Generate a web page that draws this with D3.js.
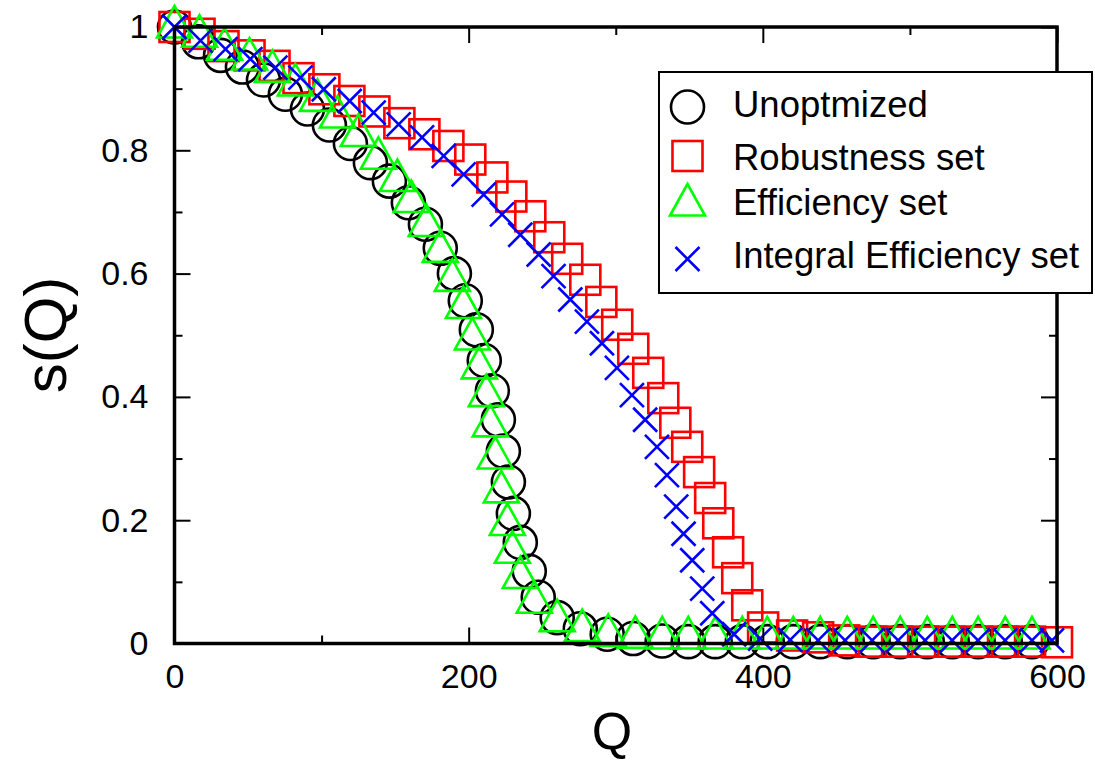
<!DOCTYPE html>
<html>
<head>
<meta charset="utf-8">
<script src="https://cdn.jsdelivr.net/npm/d3@7"></script>
<style>
  html, body { margin: 0; padding: 0; background: #fff; }
  svg { display: block; font-family: "Liberation Sans", Arial, sans-serif; }
</style>
</head>
<body>
<svg id="chart" width="1095" height="762"></svg>
<script>
// ---- data ----
const unoptimized = [[0,1.0],[16.3,0.976],[31.3,0.954],[46.2,0.935],[60.5,0.914],[75.4,0.891],[90.4,0.867],[105.3,0.841],[119.6,0.811],[133.2,0.780],[146.1,0.750],[159.0,0.715],[170.6,0.680],[180.7,0.641],[190.3,0.600],[197.7,0.556],[205.2,0.509],[210.6,0.459],[216.1,0.410],[220.2,0.363],[223.6,0.312],[227.0,0.262],[230.4,0.211],[235.1,0.164],[241.2,0.117],[247.3,0.075],[260.2,0.042],[275.9,0.024],[294.2,0.015],[311.9,0.008],[331.6,0.004],[349.3,0.003],[367.6,0.003],[386.0,0.003],[403.0,0.003],[420.7,0.003],[439.0,0.003],[457.4,0.003],[475.0,0.003],[493.4,0.003],[511.8,0.003],[528.8,0.003],[546.4,0.003],[564.8,0.003],[583.0,0.003]];
const robustness = [[0,1.0],[17.0,0.989],[33.3,0.969],[51.0,0.954],[68.0,0.937],[84.3,0.917],[101.9,0.899],[118.9,0.880],[135.9,0.863],[152.9,0.844],[169.9,0.826],[186.2,0.807],[201.1,0.785],[216.1,0.756],[229.0,0.725],[241.9,0.693],[254.8,0.659],[267.0,0.624],[279.3,0.590],[290.2,0.554],[301.0,0.517],[311.9,0.478],[322.1,0.439],[332.3,0.398],[340.5,0.358],[348.6,0.319],[356.7,0.278],[364.2,0.236],[369.7,0.195],[376.4,0.148],[382.6,0.106],[389.4,0.062],[400.2,0.026],[419.9,0.013],[437.6,0.010],[455.3,0.005],[473.6,0.003],[491.3,0.003],[509.0,0.003],[527.3,0.003],[545.6,0.003],[563.3,0.003],[581.7,0.003],[600,0.002]];
const efficiency = [[0,1.0],[17.0,0.985],[34.0,0.964],[51.0,0.948],[66.6,0.928],[82.2,0.906],[97.2,0.881],[110.8,0.854],[125.0,0.824],[138.6,0.787],[151.5,0.751],[161.0,0.717],[171.2,0.678],[180.7,0.636],[188.9,0.589],[196.4,0.545],[202.5,0.494],[207.2,0.447],[212.0,0.402],[214.7,0.353],[218.1,0.301],[222.2,0.246],[226.3,0.193],[229.7,0.148],[235.1,0.107],[244.6,0.067],[260.2,0.037],[277.2,0.021],[294.9,0.013],[313.3,0.010],[331.6,0.009],[349.3,0.009],[367.6,0.009],[386.0,0.009],[403.0,0.009],[420.7,0.009],[439.0,0.009],[457.4,0.009],[475.0,0.009],[493.4,0.009],[511.8,0.009],[528.8,0.009],[546.4,0.009],[564.8,0.009],[583.0,0.009]];
const integralEfficiency = [[0,1.0],[17.7,0.978],[34.7,0.964],[51.6,0.948],[68.6,0.934],[85.6,0.918],[101.5,0.899],[119.1,0.880],[135.4,0.861],[152.4,0.842],[168.3,0.821],[183.0,0.791],[196.6,0.761],[210.2,0.728],[222.7,0.696],[235.1,0.663],[247.6,0.631],[257.7,0.596],[269.1,0.558],[280.4,0.522],[290.6,0.487],[300.8,0.447],[311.0,0.403],[320.0,0.363],[328.0,0.319],[334.8,0.273],[341.1,0.222],[346.1,0.178],[352.0,0.135],[358.8,0.089],[365.6,0.049],[380.5,0.015],[398.2,0.008],[418.6,0.006],[437.6,0.005],[455.9,0.005],[474.3,0.005],[492.0,0.005],[510.3,0.005],[528.7,0.005],[546.3,0.005],[564.7,0.005],[583.0,0.005],[596.6,0.005]];

const seriesNames = ["Unoptmized", "Robustness set", "Efficiency set", "Integral Efficiency set"];
const seriesColors = ["#000000", "#ff0000", "#00ff00", "#0000ff"];
const xMajorTicks = [0, 200, 400, 600];
const xMinorTicks = [100, 300, 500];
const yMajorTicks = [0, 0.2, 0.4, 0.6, 0.8, 1];
const yMinorTicks = [0.1, 0.3, 0.5, 0.7, 0.9];
const xTitle = "Q";
const yTitle = "s(Q)";

// ---- layout ----
const svg = d3.select("#chart");
const x = d3.scaleLinear().domain([0, 600]).range([174.5, 1057]);
const y = d3.scaleLinear().domain([0, 1]).range([643.5, 27]);
const [x0, x1] = x.range();
const [y0, y1] = y.range();

const sym = {
  circle: (g, c) => g.append("circle").attr("r", 16.5).attr("fill", "none").attr("stroke", c).attr("stroke-width", 2.6),
  square: (g, c) => g.append("rect").attr("x", -15).attr("y", -15).attr("width", 30).attr("height", 30)
                      .attr("fill", "none").attr("stroke", c).attr("stroke-width", 2.6),
  triangle: (g, c) => g.append("path").attr("d", "M0,-21L-17.5,10.5L17.5,10.5Z").attr("fill", "none")
                      .attr("stroke", c).attr("stroke-width", 2.6).attr("stroke-linejoin", "miter"),
  cross: (g, c) => g.append("path").attr("d", "M-12,-12L12,12M-12,12L12,-12").attr("fill", "none")
                      .attr("stroke", c).attr("stroke-width", 2.6)
};
const symKeys = ["circle", "square", "triangle", "cross"];
const allSeries = [unoptimized, robustness, efficiency, integralEfficiency];

// ---- markers ----
allSeries.forEach((data, i) => {
  const g = svg.append("g");
  g.selectAll("g").data(data).join("g")
    .attr("transform", d => `translate(${x(d[0])},${y(d[1])})`)
    .each(function () { sym[symKeys[i]](d3.select(this), seriesColors[i]); });
});

// ---- axes (ticks inside) ----
const fontSize = 34;
function styleAxis(g) {
  g.select(".domain").remove();
  g.selectAll(".tick line").attr("stroke", "#000").attr("stroke-width", 2);
  g.selectAll("text").attr("font-size", fontSize).attr("fill", "#000")
    .attr("font-family", "'Liberation Sans', Arial, sans-serif");
}
const fmtY = d => d === 0 ? "0" : d === 1 ? "1" : d3.format(".1f")(d);

svg.append("g").attr("transform", `translate(0,${y0})`)
  .call(d3.axisBottom(x).tickValues(xMajorTicks).tickSize(-16).tickPadding(20).tickFormat(d3.format("d")))
  .call(styleAxis);
svg.append("g").attr("transform", `translate(0,${y0})`)
  .call(d3.axisBottom(x).tickValues(xMinorTicks).tickSize(-8).tickFormat(""))
  .call(styleAxis);
svg.append("g").attr("transform", `translate(0,${y1})`)
  .call(d3.axisTop(x).tickValues(xMajorTicks).tickSize(-16).tickFormat(""))
  .call(styleAxis);
svg.append("g").attr("transform", `translate(0,${y1})`)
  .call(d3.axisTop(x).tickValues(xMinorTicks).tickSize(-8).tickFormat(""))
  .call(styleAxis);

svg.append("g").attr("transform", `translate(${x0},0)`)
  .call(d3.axisLeft(y).tickValues(yMajorTicks).tickSize(-16).tickPadding(26).tickFormat(fmtY))
  .call(styleAxis);
svg.append("g").attr("transform", `translate(${x0},0)`)
  .call(d3.axisLeft(y).tickValues(yMinorTicks).tickSize(-8).tickFormat(""))
  .call(styleAxis);
svg.append("g").attr("transform", `translate(${x1},0)`)
  .call(d3.axisRight(y).tickValues(yMajorTicks).tickSize(-16).tickFormat(""))
  .call(styleAxis);
svg.append("g").attr("transform", `translate(${x1},0)`)
  .call(d3.axisRight(y).tickValues(yMinorTicks).tickSize(-8).tickFormat(""))
  .call(styleAxis);

// frame
svg.append("rect").attr("x", x0).attr("y", y1).attr("width", x1 - x0).attr("height", y0 - y1)
  .attr("fill", "none").attr("stroke", "#000").attr("stroke-width", 3.5);

// axis titles
svg.append("text").attr("x", 612).attr("y", 749).attr("text-anchor", "middle")
  .attr("font-size", 52).text(xTitle);
svg.append("text").attr("transform", `translate(66,335) rotate(-90)`).attr("text-anchor", "middle")
  .attr("font-size", 60).text(yTitle);

// ---- legend ----
const lg = svg.append("g");
lg.append("rect").attr("x", 659).attr("y", 72).attr("width", 433).attr("height", 221)
  .attr("fill", "#fff").attr("stroke", "#000").attr("stroke-width", 2);
const legendRowsY = [107, 156, 205, 259];
const legendTextY = [117, 170, 215, 268];
seriesNames.forEach((name, i) => {
  const m = lg.append("g").attr("transform", `translate(687.5,${legendRowsY[i]})`);
  sym[symKeys[i]](m, seriesColors[i]);
  lg.append("text").attr("x", 733).attr("y", legendTextY[i]).attr("font-size", 36.5).attr("fill", "#000").text(name);
});
</script>
</body>
</html>
